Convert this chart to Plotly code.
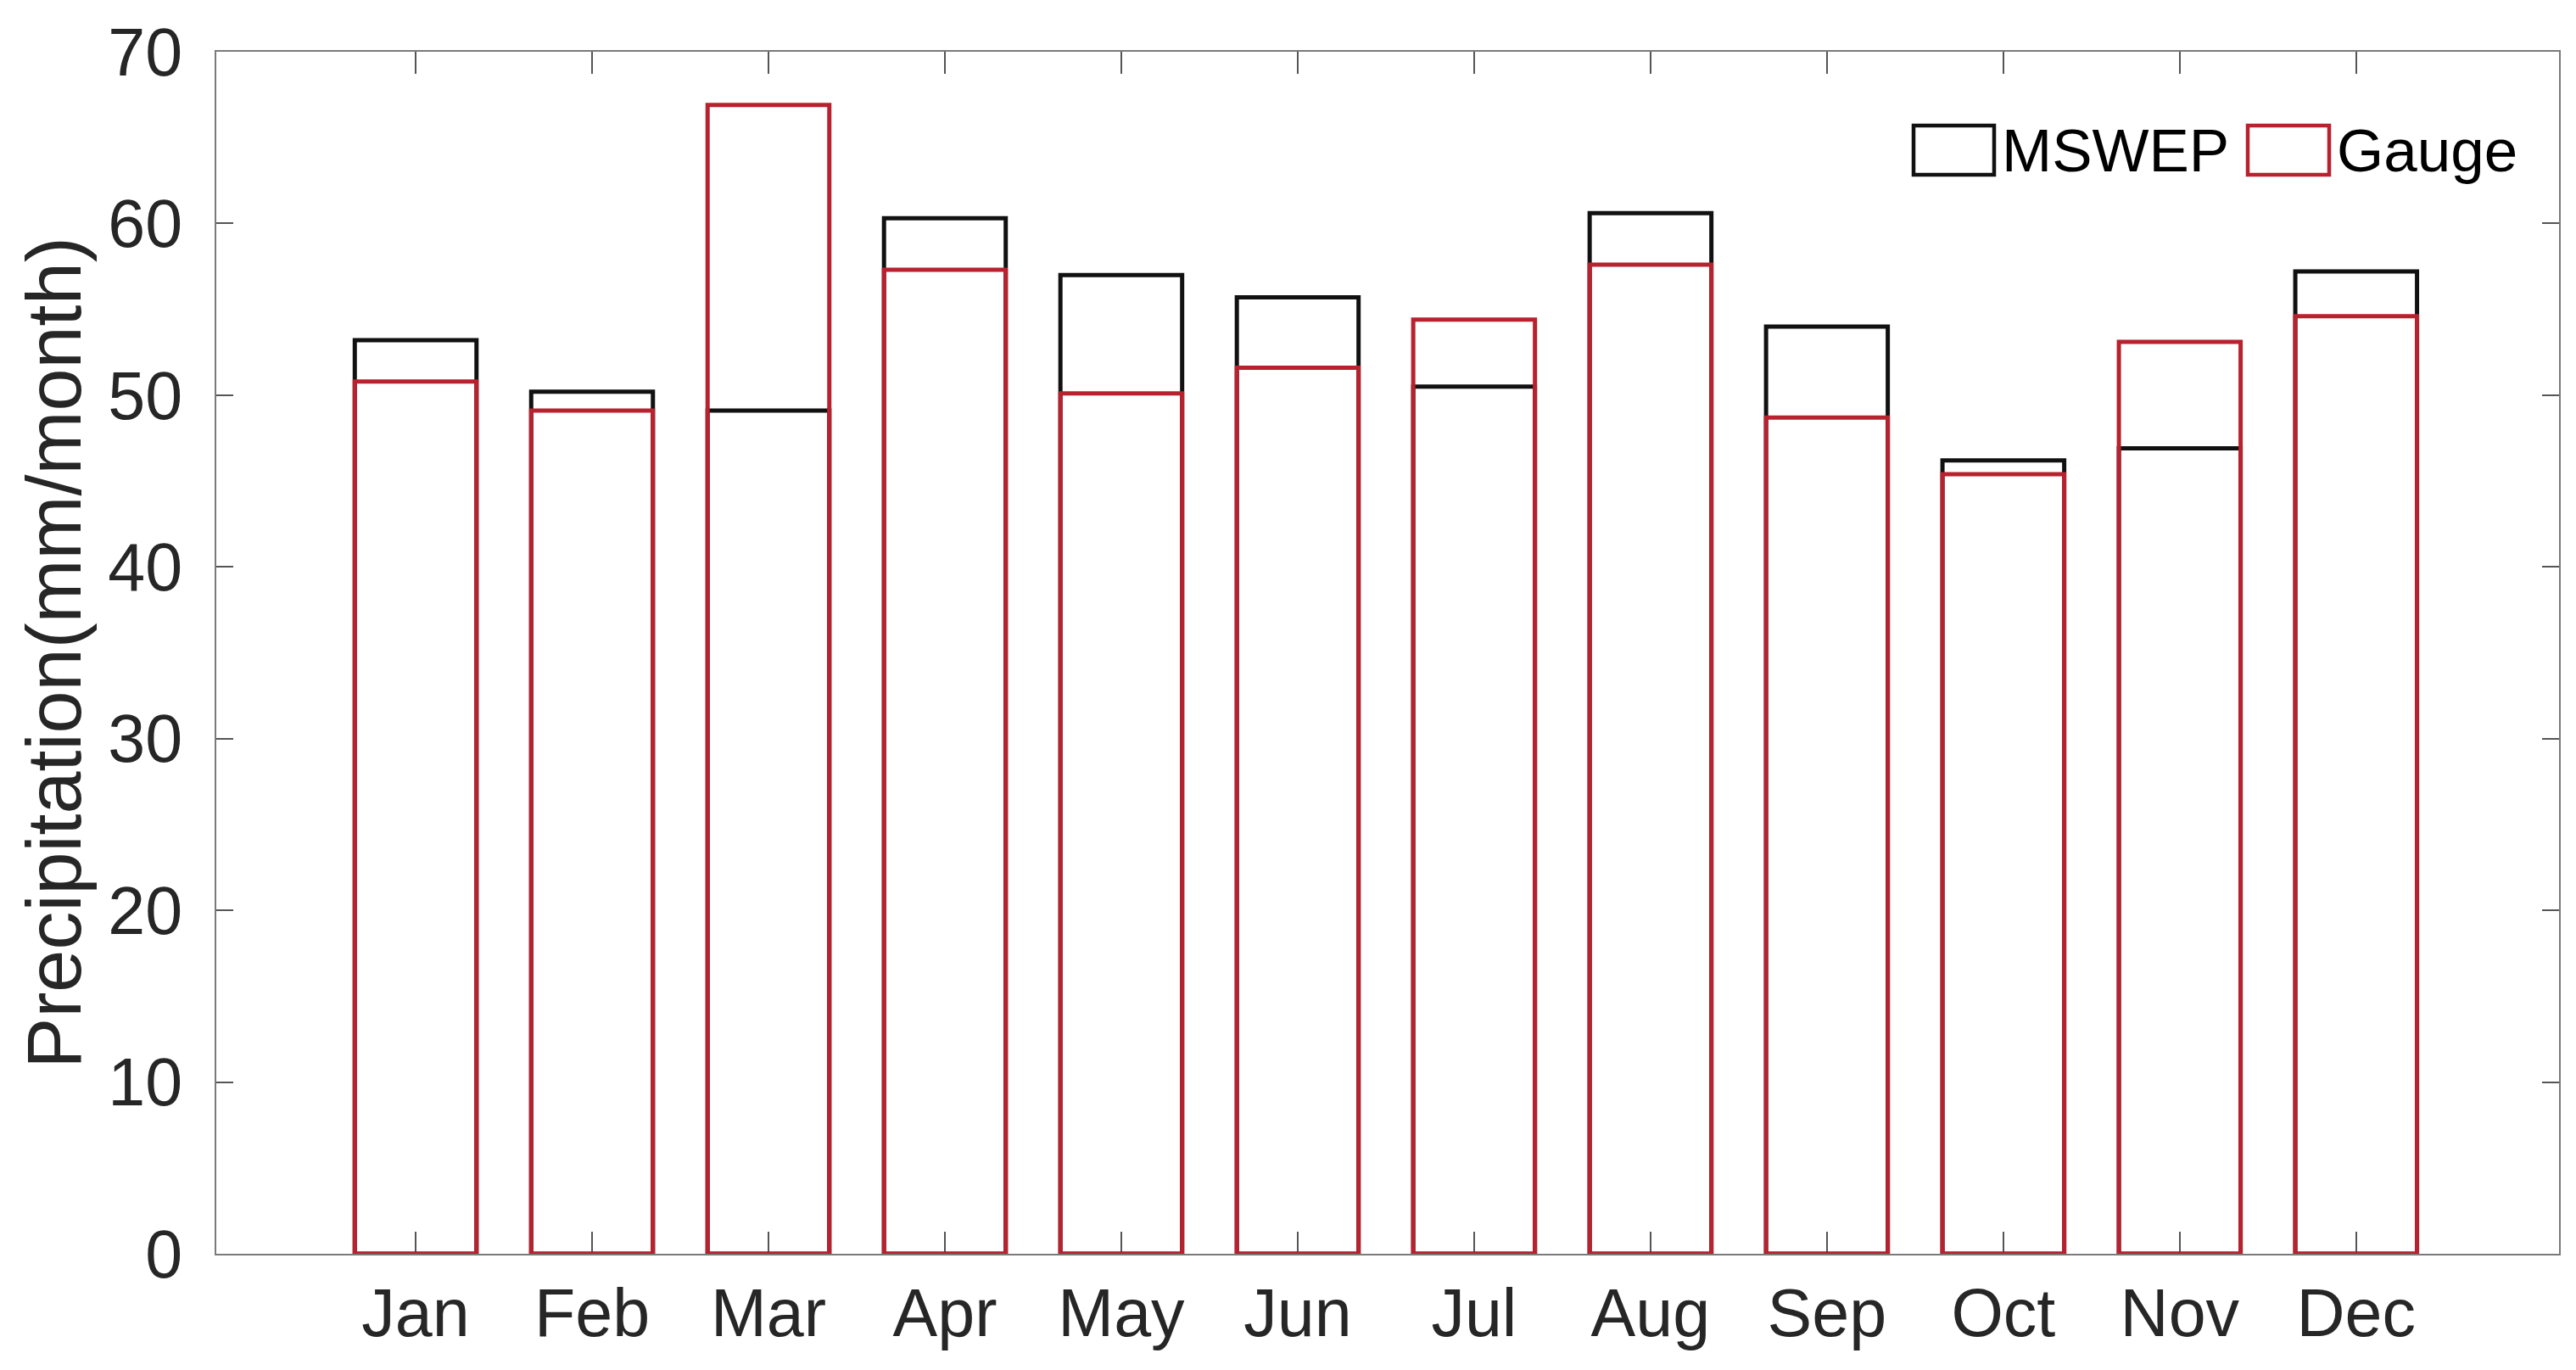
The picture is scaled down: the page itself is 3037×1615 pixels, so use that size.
import plotly.graph_objects as go

months = ["Jan", "Feb", "Mar", "Apr", "May", "Jun", "Jul", "Aug", "Sep", "Oct", "Nov", "Dec"]
mswep = [53.2, 50.2, 49.1, 60.3, 57.0, 55.7, 50.5, 60.6, 54.0, 46.2, 46.9, 57.2]
gauge = [50.8, 49.1, 66.9, 57.3, 50.1, 51.6, 54.4, 57.6, 48.7, 45.4, 53.1, 54.6]
series_names = ["MSWEP", "Gauge"]
yticks = [0, 10, 20, 30, 40, 50, 60, 70]

BLACK = "#111111"
RED = "#B8222F"
FONT = "Liberation Sans, Arial, sans-serif"

fig = go.Figure()
fig.add_trace(go.Bar(x=months, y=mswep, name=series_names[0], width=0.69,
                     marker=dict(color="rgba(0,0,0,0)", line=dict(color=BLACK, width=5)),
                     showlegend=False))
fig.add_trace(go.Bar(x=months, y=gauge, name=series_names[1], width=0.69,
                     marker=dict(color="rgba(0,0,0,0)", line=dict(color=RED, width=5)),
                     showlegend=False))

W, H = 3037, 1615
L, R, T, B = 247, 28, 53, 145
pw, ph = W - L - R, H - T - B

def px2x(px):
    return (px - L) / pw

def py2y(py):
    return (H - B - py) / ph

# manual legend (MATLAB-style wide boxes)
legend_items = [
    (series_names[0], BLACK, 2248, 2343, 2350),
    (series_names[1], RED, 2642, 2738, 2745),
]
shapes = []
annotations = []
for name, col, x0, x1, tx in legend_items:
    shapes.append(dict(type="rect", xref="paper", yref="paper",
                       x0=px2x(x0), x1=px2x(x1), y0=py2y(198), y1=py2y(140),
                       line=dict(color=col, width=4.5), fillcolor="rgba(0,0,0,0)"))
    annotations.append(dict(xref="paper", yref="paper", x=px2x(tx), y=py2y(170),
                            xanchor="left", yanchor="middle", showarrow=False,
                            text=name, font=dict(family=FONT, size=71, color="#000000")))

axis_common = dict(showline=True, linecolor="#7a7a7a", linewidth=2, mirror="ticks",
                   ticks="inside", tickcolor="#555555", tickwidth=2,
                   showgrid=False, zeroline=False, layer="below traces",
                   tickfont=dict(family=FONT, size=79, color="#262626"))

fig.update_layout(
    width=W, height=H,
    margin=dict(l=L, r=R, t=T, b=B, autoexpand=False),
    paper_bgcolor="white", plot_bgcolor="white",
    barmode="overlay",
    shapes=shapes, annotations=annotations,
    xaxis=dict(type="category", range=[-1.13, 12.15], ticklen=26,
               ticklabelstandoff=0, **axis_common),
    yaxis=dict(range=[0, 70], tickvals=yticks, ticktext=[str(v) for v in yticks],
               ticklen=20, ticklabelstandoff=22,
               title=dict(text="Precipitation(mm/month)", standoff=2,
                          font=dict(family=FONT, size=90, color="#262626")),
               **axis_common),
)

fig.write_html("out.html")
